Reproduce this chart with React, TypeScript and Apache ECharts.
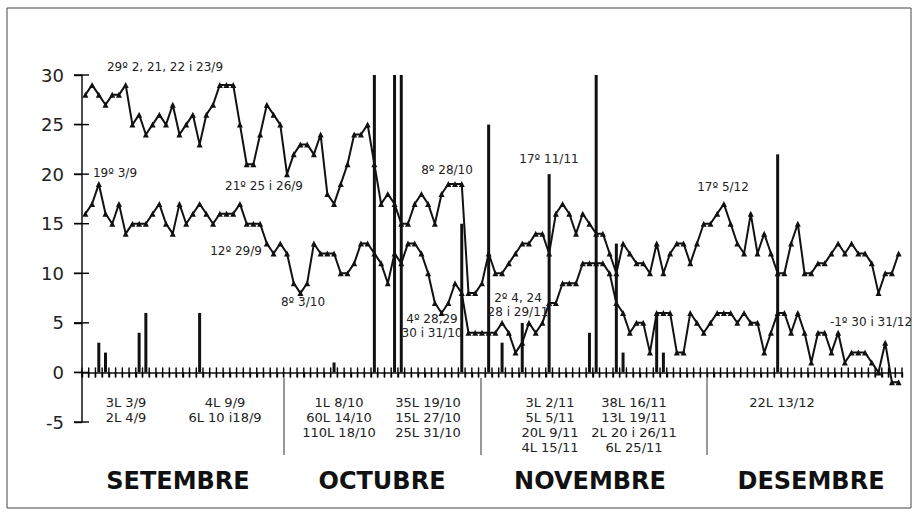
import React, { useEffect, useRef } from "react";
import * as echarts from "echarts";

// Day categories, 1 Sep – 31 Dec
const monthNums = [9, 10, 11, 12];
const monthLengths = [30, 31, 30, 31];
const categories: string[] = [];
monthNums.forEach((m, i) => {
  for (let d = 1; d <= monthLengths[i]; d++) categories.push(`${d}/${m}`);
});

// Maximum temperatures (ºC)
const maxSep = [28, 29, 28, 27, 28, 28, 29, 25, 26, 24, 25, 26, 25, 27, 24, 25, 26, 23, 26, 27, 29, 29, 29, 25, 21, 21, 24, 27, 26, 25];
const maxOct = [20, 22, 23, 23, 22, 24, 18, 17, 19, 21, 24, 24, 25, 21, 17, 18, 17, 15, 15, 17, 18, 17, 15, 18, 19, 19, 19, 8, 8, 9, 12];
const maxNov = [10, 10, 11, 12, 13, 13, 14, 14, 12, 16, 17, 16, 14, 16, 15, 14, 14, 12, 10, 13, 12, 11, 11, 10, 13, 10, 12, 13, 13, 11];
const maxDec = [13, 15, 15, 16, 17, 15, 13, 12, 16, 12, 14, 12, 10, 10, 13, 15, 10, 10, 11, 11, 12, 13, 12, 13, 12, 12, 11, 8, 10, 10, 12];

// Minimum temperatures (ºC)
const minSep = [16, 17, 19, 16, 15, 17, 14, 15, 15, 15, 16, 17, 15, 14, 17, 15, 16, 17, 16, 15, 16, 16, 16, 17, 15, 15, 15, 13, 12, 13];
const minOct = [12, 9, 8, 9, 13, 12, 12, 12, 10, 10, 11, 13, 13, 12, 11, 9, 12, 11, 13, 13, 12, 10, 7, 6, 7, 9, 8, 4, 4, 4, 4];
const minNov = [4, 5, 4, 2, 3, 5, 4, 5, 7, 7, 9, 9, 9, 11, 11, 11, 11, 10, 7, 6, 4, 5, 5, 2, 6, 6, 6, 2, 2, 6];
const minDec = [5, 4, 5, 6, 6, 6, 5, 6, 5, 5, 2, 4, 6, 6, 4, 6, 4, 1, 4, 4, 2, 4, 1, 2, 2, 2, 1, 0, 3, -1, -1];

// Rainfall (L)
const rainDates = ["3/9", "4/9", "9/9", "10/9", "18/9", "8/10", "14/10", "17/10", "18/10", "27/10", "31/10", "2/11", "5/11", "9/11", "15/11", "16/11", "19/11", "20/11", "25/11", "26/11", "13/12"];
const rainValues = [3, 2, 4, 6, 6, 1, 60, 110, 35, 15, 25, 3, 5, 20, 4, 38, 13, 2, 6, 2, 22];

// Axis ticks / texts
const yMin = -5;
const yMax = 30;
const yStep = 5;
const yTicks = [-5, 0, 5, 10, 15, 20, 25, 30];
const monthNames = ["SETEMBRE", "OCTUBRE", "NOVEMBRE", "DESEMBRE"];

const tempNotes: [string, number, number][] = [
  ["29º 2, 21, 22 i 23/9", 165, 67],
  ["19º 3/9", 115, 173],
  ["21º 25 i 26/9", 264, 186],
  ["12º 29/9", 236, 251],
  ["8º 3/10", 303, 302],
  ["8º 28/10", 447, 170],
  ["17º 11/11", 549, 159],
  ["4º 28,29", 432, 319],
  ["30 i 31/10", 432, 333],
  ["2º 4, 24", 518, 298],
  ["28 i 29/11", 518, 312],
  ["17º 5/12", 723, 187],
  ["-1º 30 i 31/12", 871, 322],
];

const rainNotes: [string[], number][] = [
  [["3L 3/9", "2L 4/9"], 126],
  [["4L 9/9", "6L 10 i18/9"], 225],
  [["1L 8/10", "60L 14/10", "110L 18/10"], 339],
  [["35L 19/10", "15L 27/10", "25L 31/10"], 428],
  [["3L 2/11", "5L 5/11", "20L 9/11", "4L 15/11"], 550],
  [["38L 16/11", "13L 19/11", "2L 20 i 26/11", "6L 25/11"], 634],
  [["22L 13/12"], 782],
];
const monthCenters = [178, 382, 590, 811];
const separators = [284, 481, 707];

const GRID_LEFT = 82;
const GRID_TOP = 75;
const GRID_WIDTH = 820;
const GRID_HEIGHT = 347;

export default function App() {
  const ref = useRef<HTMLDivElement>(null);

  useEffect(() => {
    if (!ref.current) return;
    const chart = echarts.init(ref.current, null, { renderer: "svg" });

    const maxAll = [...maxSep, ...maxOct, ...maxNov, ...maxDec];
    const minAll = [...minSep, ...minOct, ...minNov, ...minDec];
    const rainData = rainDates.map((d, i) => [d, rainValues[i]]);

    const ink = "#111";
    const textColor = "#222";

    // axis geometry derived from the grid and the value range
    const band = GRID_WIDTH / categories.length;
    const valueToY = (v: number) => GRID_TOP + (GRID_HEIGHT * (yMax - v)) / (yMax - yMin);
    const y0 = valueToY(0);

    const graphics: any[] = [
      {
        type: "rect",
        shape: { x: 7, y: 8, width: 904, height: 500 },
        style: { fill: "none", stroke: "#444", lineWidth: 1 },
        silent: true,
      },
    ];
    for (let k = 0; k <= categories.length; k++) {
      const bx = GRID_LEFT + k * band;
      graphics.push({
        type: "line",
        shape: { x1: bx, y1: y0 - 5, x2: bx, y2: y0 + 5 },
        style: { stroke: "#000", lineWidth: 1.4 },
        silent: true,
      });
    }
    yTicks.forEach((v) => {
      const py = valueToY(v);
      graphics.push({
        type: "line",
        shape: { x1: GRID_LEFT - 8, y1: py, x2: GRID_LEFT + 7, y2: py },
        style: { stroke: "#000", lineWidth: 1.4 },
        silent: true,
      });
    });
    separators.forEach((x) =>
      graphics.push({
        type: "line",
        shape: { x1: x, y1: 378, x2: x, y2: 455 },
        style: { stroke: "#333", lineWidth: 1 },
        silent: true,
      })
    );
    tempNotes.forEach(([t, x, y]) =>
      graphics.push({
        type: "text",
        x,
        y,
        style: {
          text: t,
          fill: textColor,
          fontSize: 12,
          fontFamily: "DejaVu Sans",
          textAlign: "center",
          textVerticalAlign: "middle",
        },
        z: 100,
      })
    );
    rainNotes.forEach(([lines, x]) =>
      lines.forEach((t, k) =>
        graphics.push({
          type: "text",
          x,
          y: 402 + k * 15,
          style: {
            text: t,
            fill: textColor,
            fontSize: 13,
            fontFamily: "DejaVu Sans",
            textAlign: "center",
            textVerticalAlign: "middle",
          },
          z: 100,
        })
      )
    );
    monthNames.forEach((t, i) =>
      graphics.push({
        type: "text",
        x: monthCenters[i],
        y: 481,
        style: {
          text: t,
          fill: ink,
          fontSize: 24,
          fontWeight: "bold",
          fontFamily: "DejaVu Sans",
          textAlign: "center",
          textVerticalAlign: "middle",
        },
        z: 100,
      })
    );

    chart.setOption({
      animation: false,
      backgroundColor: "#fff",
      grid: { left: GRID_LEFT, top: GRID_TOP, width: GRID_WIDTH, height: GRID_HEIGHT, containLabel: false },
      xAxis: {
        type: "category",
        data: categories,
        boundaryGap: true,
        axisLine: { show: true, onZero: true, lineStyle: { color: ink, width: 1.5 } },
        axisTick: { show: true, interval: 0, length: 5, lineStyle: { color: "#000", width: 1.4 } },
        axisLabel: { show: true, interval: 0, formatter: () => "" },
        splitLine: { show: false },
      },
      yAxis: {
        type: "value",
        min: yMin,
        max: yMax,
        interval: yStep,
        splitLine: { show: false },
        axisLine: { show: true, lineStyle: { color: ink, width: 1.5 } },
        axisTick: { show: true, length: 8, lineStyle: { color: "#000", width: 1.4 } },
        axisLabel: { show: true, margin: 18, fontSize: 18, fontFamily: "DejaVu Sans", color: textColor },
      },
      series: [
        {
          name: "Pluja",
          type: "bar",
          data: rainData,
          barWidth: 3,
          clip: true,
          itemStyle: { color: ink },
          z: 3,
        },
        {
          name: "Màxima",
          type: "line",
          data: maxAll,
          symbol: "triangle",
          symbolSize: 6,
          showSymbol: true,
          showAllSymbol: true,
          lineStyle: { color: ink, width: 2 },
          itemStyle: { color: ink },
          z: 2,
        },
        {
          name: "Mínima",
          type: "line",
          data: minAll,
          symbol: "triangle",
          symbolSize: 6,
          showSymbol: true,
          showAllSymbol: true,
          lineStyle: { color: ink, width: 2 },
          itemStyle: { color: ink },
          z: 2,
        },
      ],
      graphic: graphics,
    });

    return () => chart.dispose();
  }, []);

  return (
    <div
      ref={ref}
      style={{ position: "fixed", left: 0, top: 0, width: 916, height: 522 }}
    />
  );
}
